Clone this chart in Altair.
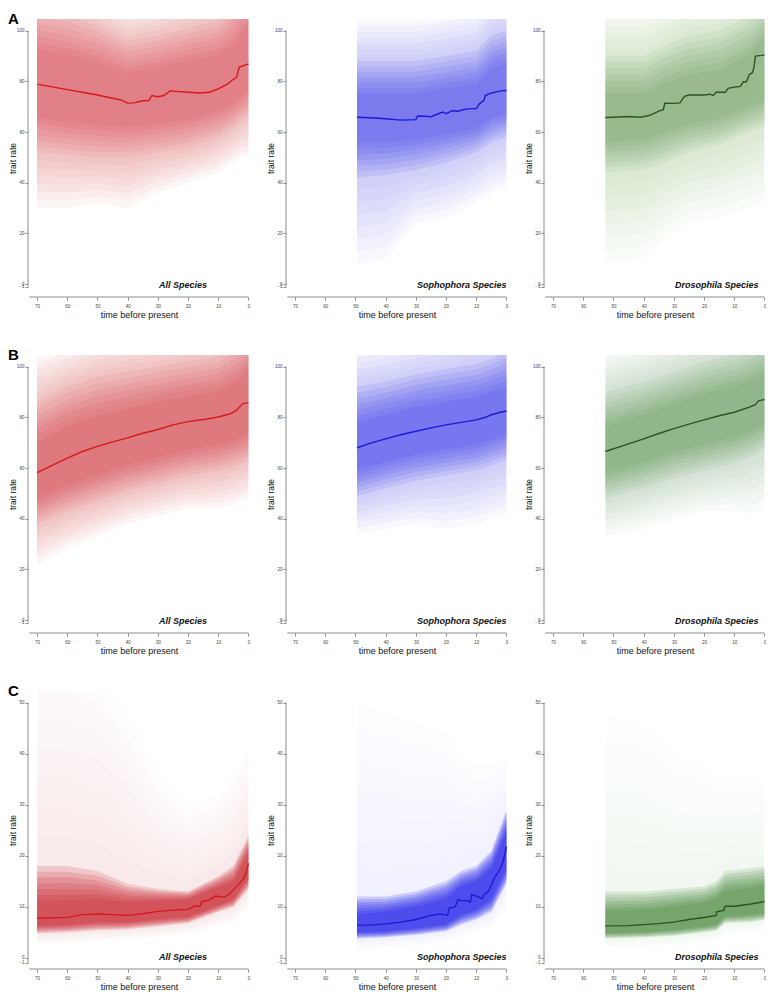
import altair as alt
import pandas as pd

# ---------------- shared axis settings ----------------
X_TICKS = [70, 60, 50, 40, 30, 20, 10, 0]
X_DOMAIN = [-0.5, 73]
X_AXIS_SPAN = [72.6, 0]
Y_TICKS_AB = [-1, 0, 20, 40, 60, 80, 100]
Y_DOMAIN_AB = [-5.06, 104.56]
Y_TICKS_C = [-1, 0, 10, 20, 30, 40, 50]
Y_DOMAIN_C = [-2.2, 52.3]

# ---------------- Row A ----------------
A1_t = [70, 60, 55, 50, 45, 42, 40, 38, 35, 33, 32, 30, 28, 26, 20, 16, 13, 10, 7, 5, 4, 3, 1, 0]
A1_med = [78.9, 76.7, 75.7, 74.6, 73.3, 72.6, 71.4, 71.5, 72.3, 72.4, 74.4, 73.9, 74.4, 76.2, 75.7, 75.4, 75.7, 77.0, 78.9, 80.8, 81.5, 85.6, 86.5, 86.8]
A1_bt = [70, 60, 50, 40, 30, 20, 10, 5, 2, 0]
A1_lo3 = [30, 30, 32, 30, 36, 40, 44, 48, 50, 50]
A1_lo2 = [52, 51, 50, 50, 52, 54, 58, 62, 65, 66]
A1_lo1 = [68, 66, 65, 64, 65, 67, 70, 73, 76, 78]
A1_hi1 = [90, 88, 85, 81, 83, 86, 88, 92, 97, 100]
A1_hi2 = [108, 106, 102, 96, 98, 101, 104, 110, 115, 115]
A1_hi3 = [125, 122, 116, 110, 112, 116, 120, 125, 130, 130]

A2_t = [49.5, 45, 40, 35, 30, 29.5, 27, 25, 23, 21, 20, 18, 16, 14, 12, 10, 9, 7.5, 7, 5, 3, 1, 0]
A2_med = [65.8, 65.6, 65.2, 64.7, 64.9, 66.3, 66.2, 66.0, 67.0, 67.9, 67.2, 68.4, 68.2, 68.9, 69.2, 69.2, 71.1, 72.4, 74.4, 75.4, 75.9, 76.4, 76.3]
A2_bt = [49.5, 40, 30, 20, 10, 5, 0]
A2_lo3 = [8, 10, 24, 26, 32, 36, 38]
A2_lo2 = [42, 43, 45, 48, 52, 56, 58]
A2_lo1 = [58, 58, 59, 61, 63, 67, 69]
A2_hi1 = [73, 73, 73, 75, 77, 83, 85]
A2_hi2 = [88, 88, 88, 90, 92, 98, 100]
A2_hi3 = [104, 104, 104, 106, 108, 115, 118]

A3_t = [52.7, 50, 45, 41, 38, 35, 33.5, 33, 30, 28, 26.5, 25, 20, 18, 17, 16, 13, 12, 10, 8, 7, 6, 5, 4, 3.5, 3, 1, 0]
A3_med = [65.7, 65.8, 66.1, 65.8, 66.6, 68.2, 68.8, 71.4, 71.3, 71.5, 74.1, 74.6, 74.6, 74.9, 74.3, 75.7, 75.7, 77.2, 77.7, 78.0, 79.8, 79.8, 82.7, 83.4, 85.4, 89.9, 90.2, 90.4]
A3_bt = [52.7, 40, 33, 25, 15, 5, 0]
A3_lo3 = [8, 10, 18, 24, 26, 30, 32]
A3_lo2 = [44, 45, 48, 52, 55, 60, 62]
A3_lo1 = [58, 59, 62, 65, 67, 72, 74]
A3_hi1 = [73, 73, 77, 80, 82, 88, 96]
A3_hi2 = [90, 90, 94, 98, 100, 106, 110]
A3_hi3 = [110, 110, 114, 118, 120, 126, 130]

# ---------------- Row B ----------------
B1_t = [70, 65, 60, 55, 50, 45, 40, 35, 30, 25, 20, 15, 10, 6, 4, 3, 2, 0]
B1_med = [58.2, 61.0, 63.9, 66.5, 68.5, 70.3, 71.9, 73.7, 75.2, 77.0, 78.3, 79.1, 80.1, 81.4, 82.7, 84.0, 85.3, 85.8]
B1_bt = [70, 60, 50, 40, 30, 20, 10, 4, 0]
B1_lo3 = [22, 28, 33, 38, 41, 44, 44, 46, 48]
B1_lo2 = [38, 43, 47, 51, 54, 57, 59, 61, 63]
B1_lo1 = [50, 55, 59, 63, 66, 69, 71, 73, 75]
B1_hi1 = [68, 74, 78, 81, 84, 86, 88, 92, 96]
B1_hi2 = [86, 92, 96, 98, 100, 102, 104, 108, 112]
B1_hi3 = [104, 108, 112, 114, 116, 118, 120, 124, 128]

B2_t = [49.5, 45, 40, 35, 30, 25, 20, 15, 10, 7, 5, 2, 0]
B2_med = [68, 69.8, 71.5, 73.1, 74.5, 75.8, 77, 78, 79, 80, 81, 82, 82.5]
B2_bt = [49.5, 40, 30, 20, 10, 5, 0]
B2_lo3 = [34, 36, 38, 36, 38, 40, 42]
B2_lo2 = [49, 52, 55, 57, 59, 61, 63]
B2_lo1 = [61, 64, 67, 69, 71, 73, 75]
B2_hi1 = [76, 79, 82, 84, 86, 88, 90]
B2_hi2 = [92, 94, 97, 99, 101, 103, 106]
B2_hi3 = [108, 110, 112, 114, 116, 118, 120]

B3_t = [52.7, 45, 40, 35, 30, 25, 20, 15, 10, 5, 3, 2, 0]
B3_med = [66.5, 69.5, 71.5, 73.6, 75.5, 77.3, 79, 80.6, 82, 84, 85, 86.5, 87]
B3_bt = [52.7, 40, 30, 20, 10, 5, 0]
B3_lo3 = [33, 36, 40, 43, 43, 42, 44]
B3_lo2 = [48, 52, 56, 59, 62, 64, 67]
B3_lo1 = [60, 64, 68, 71, 74, 76, 79]
B3_hi1 = [74, 79, 83, 87, 90, 92, 95]
B3_hi2 = [90, 94, 98, 102, 105, 107, 110]
B3_hi3 = [106, 110, 114, 118, 121, 123, 126]

# ---------------- Row C ----------------
C1_t = [70, 60, 55, 50, 45, 40, 35, 30, 25, 20, 18, 16, 15.5, 13, 11, 8, 6, 4, 2, 1, 0]
C1_med = [7.74, 7.93, 8.45, 8.58, 8.45, 8.32, 8.64, 9.1, 9.35, 9.48, 10.1, 10.1, 11.0, 11.3, 12.1, 11.9, 12.6, 14.0, 15.2, 16.3, 18.5]
C1_bt = [70, 60, 50, 40, 30, 20, 10, 5, 0]
C1_lo3 = [2.5, 2.8, 3.2, 3.5, 4.0, 4.5, 6.0, 7.0, 9.5]
C1_lo2 = [4.8, 5.0, 5.4, 5.6, 6.2, 6.8, 9.0, 10.0, 13.5]
C1_lo1 = [6.5, 6.7, 7.2, 7.2, 7.8, 8.2, 10.5, 11.8, 16.0]
C1_hi1 = [10, 10.2, 10.6, 10.4, 10.8, 11.2, 13.5, 14.5, 20]
C1_hi2 = [18, 18, 17, 14.5, 13.5, 13, 16, 18, 24]
C1_hi3 = [58, 58, 56, 48, 36, 30, 32, 36, 42]

C2_t = [49.5, 45, 40, 35, 30, 25, 22, 19.5, 19, 17, 16, 15, 13, 12, 11.5, 10, 8, 7.5, 6, 4, 2, 1, 0]
C2_med = [6.4, 6.4, 6.64, 7.0, 7.5, 8.3, 8.6, 8.3, 9.7, 10.0, 11.4, 11.2, 11.2, 10.9, 12.4, 12.1, 11.6, 12.3, 13.0, 15.6, 17.5, 19.1, 21.8]
C2_bt = [49.5, 40, 30, 20, 15, 10, 5, 0]
C2_lo3 = [1.5, 1.8, 2.3, 3.0, 4.0, 5.0, 6.0, 9.0]
C2_lo2 = [3.8, 4.0, 4.5, 5.2, 6.5, 7.5, 9.0, 14.5]
C2_lo1 = [5.2, 5.4, 6.0, 6.8, 8.8, 9.8, 12.0, 18.0]
C2_hi1 = [8.0, 8.5, 9.5, 11, 13.5, 14.5, 17, 24]
C2_hi2 = [12, 12, 13, 15, 17, 18, 21, 29]
C2_hi3 = [50, 48, 46, 44, 40, 38, 38, 40]

C3_t = [52.7, 45, 40, 35, 30, 25, 20, 16, 15.8, 13.5, 13, 10, 5, 0]
C3_med = [6.25, 6.3, 6.5, 6.7, 7.0, 7.5, 7.9, 8.3, 9.0, 9.3, 10.1, 10.1, 10.5, 11.0]
C3_bt = [52.7, 40, 30, 20, 16, 13, 5, 0]
C3_lo3 = [1.8, 2.0, 2.3, 2.8, 3.0, 4.5, 4.8, 5.0]
C3_lo2 = [3.8, 4.0, 4.3, 5.0, 5.3, 6.8, 7.0, 7.4]
C3_lo1 = [5.0, 5.2, 5.6, 6.3, 6.7, 8.3, 8.6, 9.0]
C3_hi1 = [8.5, 8.8, 9.5, 10.3, 11, 12.5, 13, 13.5]
C3_hi2 = [13, 13, 13.5, 14, 15, 17, 17.5, 18]
C3_hi3 = [48, 46, 40, 38, 36, 36, 36, 36]

# ---------------- styling ----------------
W, H = 222, 278
AXIS_GREY = "#8c8c8c"
FONT = "Liberation Sans"
PANEL_LABELS = ["All Species", "Sophophora Species", "Drosophila Species"]
ROW_LETTERS = ["A", "B", "C"]
FILLS = ["#c8141e", "#1414e6", "#1e6e14"]
LINES = ["#d41a1a", "#1a1ad8", "#2a5520"]
# target cumulative opacity at the mid and inner quantile edges: [row][column]
ALPHA_MID = {"A": [0.24, 0.2, 0.16], "B": [0.24, 0.2, 0.18], "C": [0.09, 0.06, 0.05]}
ALPHA_IN = {"A": [0.52, 0.56, 0.45], "B": [0.55, 0.58, 0.48], "C": [0.72, 0.76, 0.6]}
STEPS = 7   # number of soft sub-steps used to render each shading ramp


def panel(bt, lo3, lo2, lo1, hi1, hi2, hi3, t, med, col, ydom, yticks, row, letter=None):
    bands = pd.DataFrame(dict(t=bt, lo3=lo3, lo2=lo2, lo1=lo1, hi1=hi1, hi2=hi2, hi3=hi3))
    line = pd.DataFrame(dict(t=t, med=med))
    xs = alt.Scale(domain=X_DOMAIN, reverse=True, nice=False, zero=False)
    ys = alt.Scale(domain=ydom, nice=False, zero=False)
    xax = alt.Axis(values=X_TICKS, domain=False, grid=False, ticks=True, tickColor=AXIS_GREY,
                   tickSize=3, labelFontSize=4.5, labelColor="#444", labelFont=FONT,
                   labelPadding=3, title="time before present", titleFont=FONT,
                   titleFontSize=9, titleFontWeight="normal", titleColor="#111",
                   titlePadding=3, format="d", labelOverlap=False)
    yax = alt.Axis(values=yticks, domain=False, grid=False, ticks=True, tickColor=AXIS_GREY,
                   tickSize=3, labelFontSize=4.5, labelColor="#444", labelFont=FONT,
                   labelPadding=1, title="trait rate", titleFont=FONT, titleFontSize=8.5,
                   titleFontWeight="normal", titleColor="#111", titleX=-11,
                   format="d", labelOverlap=False)
    X = alt.X("t:Q", scale=xs, axis=xax)
    a_mid = ALPHA_MID[row][col]
    a_in = ALPHA_IN[row][col]
    o_out = 1 - (1 - a_mid) ** (1 / STEPS)
    o_inn = 1 - ((1 - a_in) / (1 - a_mid)) ** (1 / STEPS)
    layers = []
    base = alt.Chart(bands)
    for (alo, ahi), (blo, bhi), op in [(("lo3", "hi3"), ("lo2", "hi2"), o_out),
                                       (("lo2", "hi2"), ("lo1", "hi1"), o_inn)]:
        for k in range(STEPS):
            f = k / STEPS
            layers.append(base.transform_calculate(
                ylo=f"datum.{alo} + (datum.{blo} - datum.{alo}) * {f}",
                yhi=f"datum.{ahi} + (datum.{bhi} - datum.{ahi}) * {f}",
            ).mark_area(color=FILLS[col], opacity=op, clip=True).encode(
                x=X, y=alt.Y("ylo:Q", scale=ys, axis=yax), y2="yhi:Q"))
    layers.append(alt.Chart(line).mark_line(color=LINES[col], strokeWidth=1.4, clip=True).encode(
        x=X, y=alt.Y("med:Q", scale=ys, axis=yax)))
    yrule = pd.DataFrame(dict(a=[min(yticks)], b=[max(yticks)]))
    layers.append(alt.Chart(yrule).mark_rule(color=AXIS_GREY, strokeWidth=1).encode(
        x=alt.value(0), y=alt.Y("a:Q", scale=ys, axis=yax), y2="b:Q"))
    xrule = pd.DataFrame(dict(a=[X_AXIS_SPAN[0]], b=[X_AXIS_SPAN[1]]))
    layers.append(alt.Chart(xrule).mark_rule(color=AXIS_GREY, strokeWidth=1).encode(
        y=alt.value(H), x=alt.X("a:Q", scale=xs, axis=xax), x2="b:Q"))
    lab = pd.DataFrame(dict(txt=[PANEL_LABELS[col]]))
    layers.append(alt.Chart(lab).mark_text(align="left", baseline="middle", fontStyle="italic",
                                           fontWeight="bold", fontSize=9, font=FONT, color="#111").encode(
        x=alt.value(131), y=alt.value(H - 12), text="txt:N"))
    if letter is not None:
        let = pd.DataFrame(dict(txt=[letter]))
        layers.append(alt.Chart(let).mark_text(align="left", baseline="alphabetic", fontWeight="bold",
                                               fontSize=15, font=FONT, color="#000").encode(
            x=alt.value(-20), y=alt.value(5), text="txt:N"))
    return alt.layer(*layers).properties(width=W, height=H)


rowA = alt.hconcat(
    panel(A1_bt, A1_lo3, A1_lo2, A1_lo1, A1_hi1, A1_hi2, A1_hi3, A1_t, A1_med, 0, Y_DOMAIN_AB, Y_TICKS_AB, "A", ROW_LETTERS[0]),
    panel(A2_bt, A2_lo3, A2_lo2, A2_lo1, A2_hi1, A2_hi2, A2_hi3, A2_t, A2_med, 1, Y_DOMAIN_AB, Y_TICKS_AB, "A"),
    panel(A3_bt, A3_lo3, A3_lo2, A3_lo1, A3_hi1, A3_hi2, A3_hi3, A3_t, A3_med, 2, Y_DOMAIN_AB, Y_TICKS_AB, "A"),
    spacing=16)
rowB = alt.hconcat(
    panel(B1_bt, B1_lo3, B1_lo2, B1_lo1, B1_hi1, B1_hi2, B1_hi3, B1_t, B1_med, 0, Y_DOMAIN_AB, Y_TICKS_AB, "B", ROW_LETTERS[1]),
    panel(B2_bt, B2_lo3, B2_lo2, B2_lo1, B2_hi1, B2_hi2, B2_hi3, B2_t, B2_med, 1, Y_DOMAIN_AB, Y_TICKS_AB, "B"),
    panel(B3_bt, B3_lo3, B3_lo2, B3_lo1, B3_hi1, B3_hi2, B3_hi3, B3_t, B3_med, 2, Y_DOMAIN_AB, Y_TICKS_AB, "B"),
    spacing=16)
rowC = alt.hconcat(
    panel(C1_bt, C1_lo3, C1_lo2, C1_lo1, C1_hi1, C1_hi2, C1_hi3, C1_t, C1_med, 0, Y_DOMAIN_C, Y_TICKS_C, "C", ROW_LETTERS[2]),
    panel(C2_bt, C2_lo3, C2_lo2, C2_lo1, C2_hi1, C2_hi2, C2_hi3, C2_t, C2_med, 1, Y_DOMAIN_C, Y_TICKS_C, "C"),
    panel(C3_bt, C3_lo3, C3_lo2, C3_lo1, C3_hi1, C3_hi2, C3_hi3, C3_t, C3_med, 2, Y_DOMAIN_C, Y_TICKS_C, "C"),
    spacing=16)

chart = alt.vconcat(rowA, rowB, rowC, spacing=28).properties(
    padding={"top": 4, "left": 0, "right": 0, "bottom": 0}).configure_view(stroke=None)

chart.save("out.html", embed_options={"renderer": "svg", "actions": False})
